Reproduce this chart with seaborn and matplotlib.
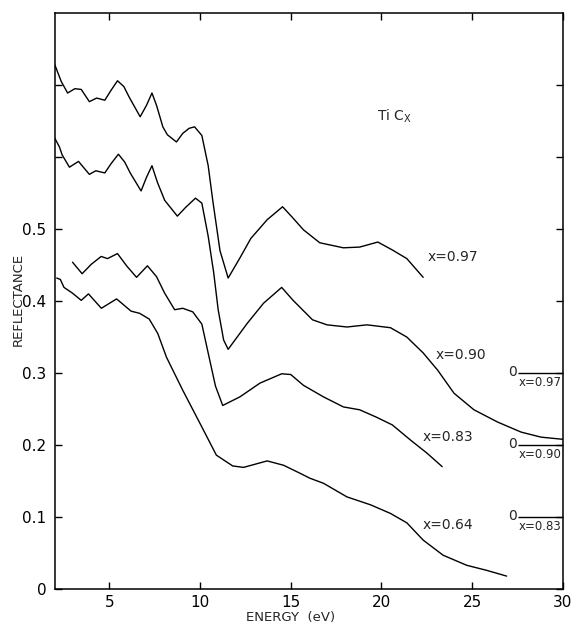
import numpy as np
import pandas as pd
import matplotlib.pyplot as plt
import seaborn as sns

# reflectance of TiC_x films; curves are shifted up by `offsets`
samples = ["x=0.97", "x=0.90", "x=0.83", "x=0.64"]
offsets = [0.3, 0.2, 0.1, 0.0]

energy_097 = [2.0, 2.15, 2.35, 2.7, 3.1, 3.45, 3.9, 4.3, 4.75, 5.1, 5.45, 5.8,
              6.1, 6.7, 7.05, 7.35, 7.6, 7.95, 8.2, 8.7, 9.05, 9.4, 9.7, 10.1,
              10.45, 10.7, 11.1, 11.55, 12.2, 12.8, 13.7, 14.55, 15.1, 15.7,
              16.6, 17.9, 18.8, 19.8, 20.6, 21.4, 22.3]
refl_097 = [0.428, 0.418, 0.405, 0.389, 0.395, 0.394, 0.377, 0.382, 0.379,
            0.393, 0.406, 0.398, 0.383, 0.356, 0.372, 0.389, 0.372, 0.342,
            0.331, 0.321, 0.333, 0.340, 0.342, 0.330, 0.288, 0.240, 0.170,
            0.132, 0.160, 0.187, 0.213, 0.231, 0.216, 0.199, 0.181, 0.174,
            0.175, 0.182, 0.171, 0.159, 0.133]

energy_090 = [2.0, 2.25, 2.4, 2.8, 3.3, 3.9, 4.25, 4.75, 5.1, 5.5, 5.85, 6.15,
              6.75, 7.05, 7.35, 7.65, 8.05, 8.75, 9.2, 9.75, 10.1, 10.45,
              10.75, 11.0, 11.3, 11.55, 12.6, 13.5, 14.5, 15.13, 16.2, 17.0,
              18.1, 19.2, 20.5, 21.4, 22.3, 23.1, 24.0, 25.1, 26.4, 27.7,
              28.8, 30.0]
refl_090 = [0.426, 0.414, 0.403, 0.386, 0.394, 0.376, 0.381, 0.378, 0.391,
            0.404, 0.393, 0.378, 0.353, 0.372, 0.388, 0.365, 0.340, 0.318,
            0.330, 0.343, 0.336, 0.290, 0.240, 0.188, 0.146, 0.133, 0.169,
            0.197, 0.219, 0.201, 0.174, 0.167, 0.164, 0.167, 0.163, 0.150,
            0.128, 0.104, 0.072, 0.049, 0.032, 0.018, 0.011, 0.008]

energy_083 = [2.97, 3.5, 4.0, 4.55, 4.9, 5.45, 5.95, 6.5, 7.1, 7.6, 8.05, 8.6,
              9.05, 9.6, 10.1, 10.5, 10.85, 11.25, 12.2, 13.3, 14.5, 15.0,
              15.7, 16.8, 17.9, 18.8, 19.7, 20.6, 21.6, 22.5, 23.35]
refl_083 = [0.354, 0.338, 0.351, 0.362, 0.359, 0.366, 0.349, 0.333, 0.349,
            0.334, 0.311, 0.288, 0.290, 0.285, 0.268, 0.222, 0.182, 0.155,
            0.167, 0.186, 0.199, 0.198, 0.183, 0.167, 0.153, 0.149, 0.139,
            0.128, 0.107, 0.089, 0.070]

energy_064 = [2.1, 2.3, 2.5, 2.97, 3.45, 3.85, 4.56, 5.4, 6.2, 6.67, 7.2, 7.67,
              8.15, 9.05, 10.0, 10.9, 11.8, 12.4, 13.7, 14.6, 15.5, 16.05,
              16.8, 18.1, 19.4, 20.5, 21.4, 22.3, 23.4, 24.7, 25.8, 26.9]
refl_064 = [0.432, 0.430, 0.419, 0.411, 0.401, 0.410, 0.390, 0.403, 0.386,
            0.383, 0.375, 0.355, 0.322, 0.276, 0.230, 0.186, 0.171, 0.169,
            0.178, 0.172, 0.161, 0.154, 0.147, 0.128, 0.117, 0.105, 0.092,
            0.068, 0.047, 0.033, 0.026, 0.018]

energies = [energy_097, energy_090, energy_083, energy_064]
refls = [refl_097, refl_090, refl_083, refl_064]

# where the sample names sit next to each curve (energy, reflectance)
label_pos = [(22.55, 0.461), (23.0, 0.325), (22.25, 0.211), (22.25, 0.089)]

frames = []
for name, off, e, r in zip(samples, offsets, energies, refls):
    frames.append(pd.DataFrame({
        "energy": e,
        "reflectance": np.array(r) + off,
        "sample": name,
    }))
df = pd.concat(frames, ignore_index=True)

sns.set_style("ticks")
plt.rcParams["font.family"] = ["DejaVu Sans"]

fig = plt.figure(figsize=(5.72, 6.24), dpi=100)
ax = fig.add_axes([0.096, 0.056, 0.888, 0.923])

sns.lineplot(
    data=df, x="energy", y="reflectance", hue="sample",
    palette=["black"] * len(samples), estimator=None, sort=False,
    legend=False, linewidth=1.0, ax=ax,
)
for line in ax.lines:
    line.set_solid_joinstyle("round")

for name, (lx, ly) in zip(samples, label_pos):
    ax.text(lx, ly, name, fontsize=10, ha="left", va="center")

# zero-level markers for the displaced curves
for name, off in zip(samples, offsets):
    if off == 0:
        continue
    ax.hlines(off, 27.55, 30, color="black", linewidth=1.0)
    ax.text(27.25, off + 0.002, "0", fontsize=10, ha="center", va="center")
    ax.text(27.55, off - 0.004, name, fontsize=8.5, ha="left", va="top")

ax.text(19.75, 0.656, r"Ti C$_{\mathregular{X}}$", fontsize=10,
        ha="left", va="center")

ax.set_xlim(2, 30)
ax.set_ylim(0, 0.8)
ax.set_xticks([5, 10, 15, 20, 25, 30])
ax.set_yticks([0, 0.1, 0.2, 0.3, 0.4, 0.5, 0.6, 0.7])
ax.set_yticklabels(["0", "0.1", "0.2", "0.3", "0.4", "0.5", "", ""])
ax.tick_params(direction="in", top=True, right=True, length=5, width=1,
               labelsize=11, pad=6, colors="black")
ax.tick_params(axis="x", pad=4)

# axis titles sit close to the figure edges in the reference
ax.set_xlabel("ENERGY  (eV)", fontsize=9.5, va="center")
ax.set_ylabel("REFLECTANCE", fontsize=9.5, va="center")
ax.xaxis.set_label_coords(0.463, -0.050)
ax.yaxis.set_label_coords(-0.073, 0.502)

for s in ax.spines.values():
    s.set_linewidth(1.1)
    s.set_color("black")

fig.savefig("out.png", dpi=100)
